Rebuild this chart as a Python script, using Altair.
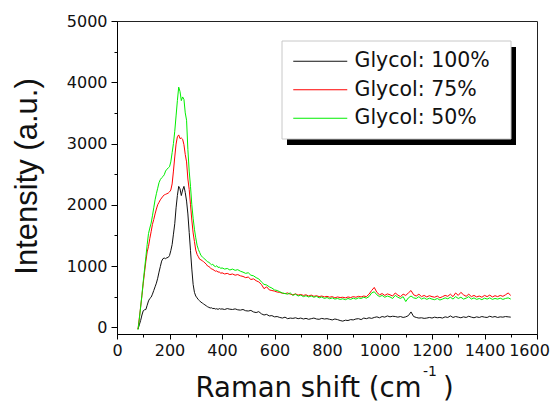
import altair as alt
import pandas as pd

# Sampling positions (cm^-1): fine steps around the peak, coarser after
X_FINE = list(range(80, 400, 5))
X_COARSE = list(range(400, 1510, 10))
WAVENUMBER = X_FINE + X_COARSE

SERIES = ["Glycol: 100%", "Glycol: 75%", "Glycol: 50%"]
COLORS = ["#111111", "#ff0000", "#00ee00"]

G100_FINE = [-30, 40, 110, 200, 270, 285, 290, 360, 430, 470,
             490, 540, 600, 660, 720, 800, 900, 990, 1080, 1120,
             1130, 1120, 1135, 1140, 1170, 1250, 1350, 1520, 1690, 1950,
             2150, 2300, 2260, 2150, 2240, 2300, 2200, 2060, 1850, 1550,
             1250, 950, 700, 570, 510, 480, 450, 430, 410, 395,
             380, 365, 350, 335, 325, 315, 318, 305, 308, 298,
             302, 292, 305, 296]
G100_COARSE = [300, 290, 305, 295, 290, 300, 285, 280, 290, 270,
               265, 275, 250, 240, 255, 220, 200, 210, 185, 190,
               170, 175, 160, 150, 165, 140, 150, 145, 155, 140,
               150, 135, 145, 130, 140, 150, 135, 130, 145, 135,
               140, 130, 120, 135, 125, 110, 100, 115, 110, 125,
               120, 135, 140, 125, 150, 140, 155, 145, 160, 170,
               155, 175, 165, 185, 170, 180, 175, 165, 175, 160,
               170, 190, 250, 175, 160, 150, 155, 145, 150, 160,
               150, 165, 155, 160, 150, 170, 160, 185, 160, 175,
               165, 155, 170, 160, 180, 165, 155, 170, 160, 175,
               165, 160, 180, 165, 175, 160, 170, 165, 175, 170,
               165]

G75_FINE = [-30, 150, 330, 520, 720, 900, 1080, 1230, 1320, 1450,
            1560, 1680, 1760, 1850, 1930, 2000, 2040, 2080, 2110, 2140,
            2160, 2170, 2180, 2190, 2210, 2240, 2340, 2550, 2780, 2990,
            3110, 3140, 3080, 3090, 3070, 2980, 2820, 2700, 2420, 2250,
            2000, 1750, 1540, 1400, 1260, 1190, 1150, 1110, 1100, 1085,
            1070, 1050, 1030, 1000, 990, 975, 950, 945, 930, 915,
            920, 900, 905, 880]
G75_COARSE = [890, 870, 880, 860, 870, 850, 860, 840, 830, 810,
              820, 780, 790, 760, 740, 700, 630, 660, 610, 600,
              590, 575, 570, 555, 550, 560, 540, 530, 545, 525,
              535, 520, 530, 510, 525, 505, 515, 500, 510, 495,
              505, 490, 500, 480, 495, 485, 490, 480, 495, 485,
              500, 490, 505, 495, 510, 500, 540, 600, 650, 570,
              530, 550, 520, 545, 530, 510, 560, 525, 500, 540,
              520, 560, 600, 530, 510, 540, 500, 520, 495, 515,
              500, 490, 510, 480, 500, 520, 505, 540, 500, 560,
              520, 570, 530, 505, 540, 500, 520, 495, 510, 490,
              520, 500, 525, 495, 515, 500, 520, 505, 530, 560,
              520]

G50_FINE = [-40, 130, 330, 530, 750, 950, 1150, 1350, 1530, 1620,
            1700, 1820, 1950, 2080, 2180, 2270, 2360, 2410, 2440, 2460,
            2490, 2550, 2580, 2600, 2620, 2700, 2850, 3000, 3200, 3450,
            3700, 3920, 3850, 3700, 3760, 3720, 3500, 3380, 2900, 2550,
            2300, 2000, 1780, 1600, 1460, 1340, 1270, 1220, 1170, 1150,
            1130, 1110, 1090, 1070, 1060, 1040, 1020, 1030, 1000, 990,
            1005, 975, 985, 960]
G50_COARSE = [970, 950, 960, 935, 950, 930, 940, 915, 900, 880,
              890, 850, 840, 810, 790, 740, 700, 690, 660, 640,
              610, 600, 580, 560, 550, 540, 560, 520, 540, 510,
              525, 500, 515, 495, 510, 490, 505, 480, 495, 470,
              485, 465, 480, 460, 470, 455, 465, 450, 470, 455,
              475, 460, 480, 470, 490, 475, 500, 560, 580, 530,
              500, 520, 490, 510, 495, 470, 520, 490, 470, 500,
              420, 480, 510, 480, 470, 500, 460, 480, 455, 475,
              460, 450, 470, 445, 460, 480, 465, 490, 460, 500,
              470, 490, 460, 475, 500, 460, 480, 455, 470, 450,
              475, 460, 480, 455, 470, 460, 475, 455, 470, 480,
              460]

X_TICKS = list(range(0, 1700, 100))
Y_TICKS = list(range(0, 5500, 500))
X_DOMAIN = [0, 1600]
Y_DOMAIN = [-110, 5000]

X_TITLE_MAIN = "Raman shift (cm"
X_TITLE_SUP = "-1"
X_TITLE_END = ")"
Y_TITLE = "Intensity (a.u.)"

values = [G100_FINE + G100_COARSE, G75_FINE + G75_COARSE, G50_FINE + G50_COARSE]
rows = []
for order, (name, vals) in enumerate(zip(SERIES, values)):
    for xv, yv in zip(WAVENUMBER, vals):
        rows.append({"shift": xv, "intensity": yv, "series": name, "order": order})
df = pd.DataFrame(rows)

TICK_FONT = "DejaVu Sans"

x_axis = alt.Axis(
    values=X_TICKS,
    labelExpr="datum.value % 200 === 0 ? datum.label : ''",
    tickSize={"condition": {"test": "datum.value % 200 === 0", "value": 5}, "value": 3},
    labelOffset={"condition": {"test": "datum.value === 1600", "value": -8}, "value": 0},
    labelFont=TICK_FONT, labelFontSize=16, labelColor="#111111",
    labelPadding=3, labelFlush=False, labelOverlap=False, labelBound=False,
    domainColor="#000000", tickColor="#000000", grid=False, title=None, format="d",
)
y_axis = alt.Axis(
    values=Y_TICKS,
    labelExpr="datum.value % 1000 === 0 ? datum.label : ''",
    tickSize={"condition": {"test": "datum.value % 1000 === 0", "value": 6}, "value": 3},
    labelFont=TICK_FONT, labelFontSize=16, labelColor="#111111",
    labelPadding=4, labelFlush=False, labelOverlap=False, labelBound=False,
    domainColor="#000000", tickColor="#000000", grid=False, title=None, format="d",
)

lines = alt.Chart(df).mark_line(strokeWidth=1, clip=True).encode(
    x=alt.X("shift:Q", scale=alt.Scale(domain=X_DOMAIN, nice=False, zero=False), axis=x_axis),
    y=alt.Y("intensity:Q", scale=alt.Scale(domain=Y_DOMAIN, nice=False, zero=False), axis=y_axis),
    color=alt.Color(
        "series:N",
        scale=alt.Scale(domain=SERIES, range=COLORS),
        legend=alt.Legend(
            orient="none", legendX=165, legendY=20, title=None,
            symbolType="M-3,0H3", symbolSize=324, symbolStrokeWidth=1.2,
            symbolOffset=18, labelOffset=24,
            labelFont=TICK_FONT, labelFontSize=20.5, labelColor="#111111",
            padding=10, rowPadding=7.5,
        ),
    ),
    order="order:Q",
)

# legend frame: drop shadow and white box behind the legend entries
shadow = alt.Chart(alt.Data(values=[{}])).mark_rect(color="black").encode(
    x=alt.value(170), x2=alt.value(399), y=alt.value(26), y2=alt.value(124)
)
box = alt.Chart(alt.Data(values=[{}])).mark_rect(
    fill="white", stroke="#c8c8c8", strokeWidth=1
).encode(
    x=alt.value(165), x2=alt.value(394), y=alt.value(20), y2=alt.value(118)
)

def label(text, x, y, size, font, align="left", angle=0):
    return alt.Chart(alt.Data(values=[{"t": text}])).mark_text(
        font=font, fontSize=size, align=align, baseline="alphabetic",
        angle=angle, color="#111111",
    ).encode(x=alt.value(x), y=alt.value(y), text="t:N")

titles = [
    label(X_TITLE_MAIN, 304.5, 376, 27.5, "DejaVu Sans", align="right"),
    label(X_TITLE_SUP, 306, 355, 14, "DejaVu Sans"),
    label(X_TITLE_END, 326, 376, 27.5, "DejaVu Sans"),
    label(Y_TITLE, -80, 155.5, 31, "Liberation Sans", align="center", angle=270),
]

chart = alt.layer(shadow, box, lines, *titles).properties(
    width=420, height=313,
    autosize=alt.AutoSizeParams(type="none"),
    padding={"left": 109, "top": 13, "right": 13, "bottom": 70},
).configure_view(stroke="#222222", strokeWidth=1)

chart.save("out.html", embed_options={"renderer": "svg", "actions": False})
